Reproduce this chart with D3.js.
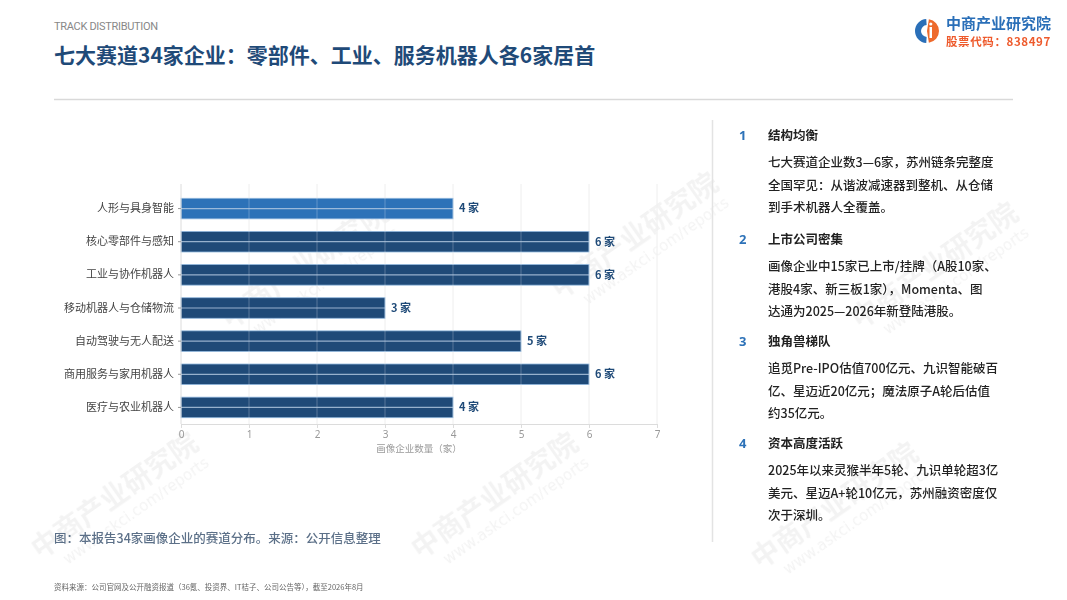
<!DOCTYPE html>
<html>
<head>
  <meta charset="utf-8">
  <title>七大赛道34家企业</title>
  <script src="https://d3js.org/d3.v7.min.js"></script>
  <style>
    body { margin: 0; background: #fff; }
    svg { font-family: "Noto Sans CJK SC", "Noto Sans", sans-serif; }
  </style>
</head>
<body>
  <svg id="chart" width="1067" height="600"></svg>

  <script>
    // 数据
    const categories = ["人形与具身智能", "核心零部件与感知", "工业与协作机器人", "移动机器人与仓储物流",
      "自动驾驶与无人配送", "商用服务与家用机器人", "医疗与农业机器人"];
    const counts = [4, 6, 6, 3, 5, 6, 4];
    const xTicks = [0, 1, 2, 3, 4, 5, 6, 7];

    const notes = [
      { title: "结构均衡", lines: ["七大赛道企业数3—6家，苏州链条完整度", "全国罕见：从谐波减速器到整机、从仓储", "到手术机器人全覆盖。"] },
      { title: "上市公司密集", lines: ["画像企业中15家已上市/挂牌（A股10家、", "港股4家、新三板1家），Momenta、图", "达通为2025—2026年新登陆港股。"] },
      { title: "独角兽梯队", lines: ["追觅Pre-IPO估值700亿元、九识智能破百", "亿、星迈近20亿元；魔法原子A轮后估值", "约35亿元。"] },
      { title: "资本高度活跃", lines: ["2025年以来灵猴半年5轮、九识单轮超3亿", "美元、星迈A+轮10亿元，苏州融资密度仅", "次于深圳。"] }
    ];

    const width = 1067, height = 600;
    const navy = "#1f4a78";
    const svg = d3.select("#chart");

    // 水印
    const wm = svg.append("g").attr("fill", "#000").attr("opacity", 0.05);
    const wmPos = [[230, 330], [560, 300], [860, 330], [420, 560], [760, 570], [40, 560]];
    wmPos.forEach(([x, y]) => {
      const g = wm.append("g").attr("transform", `translate(${x},${y}) rotate(-35)`);
      g.append("text").attr("font-size", 28).attr("font-weight", "bold").text("中商产业研究院");
      g.append("text").attr("y", 20).attr("x", 20).attr("font-size", 15).attr("font-family", "DejaVu Sans").text("www.askci.com/reports");
    });

    // 页眉
    svg.append("text").attr("x", 54).attr("y", 30)
      .attr("font-size", 11).attr("fill", "#888").attr("font-family", "Roboto, sans-serif")
      .attr("letter-spacing", -0.3).text("TRACK DISTRIBUTION");
    svg.append("text").attr("x", 54).attr("y", 63)
      .attr("font-size", 21).attr("font-weight", "bold").attr("fill", navy)
      .text("七大赛道34家企业：零部件、工业、服务机器人各6家居首");
    svg.append("line").attr("x1", 54).attr("x2", 1013).attr("y1", 99.5).attr("y2", 99.5)
      .attr("stroke", "#d9d9d9").attr("stroke-width", 1.5);

    // 标志
    const logo = svg.append("g").attr("transform", "translate(927,31)");
    logo.append("path").attr("fill", "#2a6fb8")
      .attr("d", d3.arc().innerRadius(6).outerRadius(12).startAngle(Math.PI * 1.02).endAngle(Math.PI * 1.98)());
    logo.append("path").attr("fill", "#ee6a2c")
      .attr("d", d3.arc().innerRadius(0).outerRadius(12).startAngle(Math.PI * 0.05).endAngle(Math.PI * 0.95)());
    logo.append("rect").attr("x", 2.5).attr("y", -4).attr("width", 2.5).attr("height", 11).attr("fill", "#fff");
    logo.append("circle").attr("cx", 3.8).attr("cy", -7).attr("r", 1.6).attr("fill", "#fff");
    svg.append("text").attr("x", 946).attr("y", 29).attr("font-size", 15).attr("font-weight", "bold")
      .attr("fill", "#2a6fb8").text("中商产业研究院");
    svg.append("text").attr("x", 946).attr("y", 46).attr("font-size", 11.5).attr("font-weight", "bold")
      .attr("fill", "#ee5a2c").attr("letter-spacing", 0.6).text("股票代码：838497");

    // 图表
    const margin = { left: 181, right: 657, top: 192, bottom: 424 };
    const x = d3.scaleLinear().domain([0, 7]).range([margin.left, margin.right]);
    const y = d3.scaleBand().domain(categories).range([margin.top, margin.bottom]).paddingInner(0.38).paddingOuter(0.19);

    const plot = svg.append("g");

    // 纵向网格
    plot.append("g").selectAll("line").data(xTicks.slice(1)).join("line")
      .attr("x1", d => x(d)).attr("x2", d => x(d))
      .attr("y1", margin.top - 8).attr("y2", margin.bottom)
      .attr("stroke", "#ececec");

    // 条形
    plot.append("g").selectAll("rect").data(categories).join("rect")
      .attr("x", x(0))
      .attr("y", d => y(d))
      .attr("width", (d, i) => x(counts[i]) - x(0))
      .attr("height", y.bandwidth())
      .attr("fill", (d, i) => i === 0 ? "#2d72b8" : navy)
      .attr("stroke", "#8fb6dc").attr("stroke-width", 0.8);

    // 网格覆盖在条形之上
    plot.append("g").selectAll("line").data(xTicks.slice(1)).join("line")
      .attr("x1", d => x(d)).attr("x2", d => x(d))
      .attr("y1", margin.top - 8).attr("y2", margin.bottom)
      .attr("stroke", "#fff").attr("stroke-opacity", 0.25);
    plot.append("g").selectAll("line").data(categories).join("line")
      .attr("x1", x(0)).attr("x2", (d, i) => x(counts[i]))
      .attr("y1", d => y(d) + y.bandwidth() / 2).attr("y2", d => y(d) + y.bandwidth() / 2)
      .attr("stroke", "#b5cbe2").attr("stroke-opacity", 0.8).attr("stroke-width", 1.2);

    // 数值标签
    plot.append("g").selectAll("text").data(categories).join("text")
      .attr("x", (d, i) => x(counts[i]) + 6)
      .attr("y", d => y(d) + y.bandwidth() / 2)
      .attr("dy", "0.35em")
      .attr("font-size", 11).attr("font-weight", "bold").attr("fill", navy)
      .text((d, i) => `${counts[i]} 家`);

    // 坐标轴
    const xAxis = svg.append("g").attr("transform", `translate(0,${margin.bottom})`)
      .call(d3.axisBottom(x).tickValues(xTicks).tickFormat(d3.format("d")).tickSize(4).tickPadding(3));
    xAxis.select(".domain").attr("stroke", "#dcdcdc");
    xAxis.selectAll(".tick line").attr("stroke", "#dcdcdc");
    xAxis.selectAll("text").attr("fill", "#999").attr("font-size", 10).attr("font-family", "Noto Sans, sans-serif");

    const yAxis = svg.append("g").attr("transform", `translate(${margin.left},0)`)
      .call(d3.axisLeft(y).tickSize(3).tickPadding(4));
    yAxis.select(".domain").attr("stroke", "#dcdcdc").attr("d", `M0,${margin.top - 8}V${margin.bottom}`);
    yAxis.selectAll(".tick line").attr("stroke", "#999");
    yAxis.selectAll("text").attr("fill", "#444").attr("font-size", 11).attr("font-family", "Noto Sans CJK SC, sans-serif");

    svg.append("text").attr("x", (margin.left + margin.right) / 2).attr("y", 452)
      .attr("text-anchor", "middle").attr("font-size", 9.5).attr("fill", "#999")
      .text("画像企业数量（家）");

    // 右侧要点
    svg.append("line").attr("x1", 712.5).attr("x2", 712.5).attr("y1", 120).attr("y2", 542)
      .attr("stroke", "#e3e3e3").attr("stroke-width", 1.5);
    const noteTop = [140, 244, 346, 448];
    notes.forEach((n, i) => {
      const g = svg.append("g").attr("transform", `translate(0,${noteTop[i]})`);
      g.append("text").attr("x", 739).attr("y", 0).attr("font-size", 13).attr("font-weight", "bold")
        .attr("fill", "#2d72b8").attr("font-family", "Noto Sans, sans-serif").text(i + 1);
      g.append("text").attr("x", 768).attr("y", 0).attr("font-size", 12.5).attr("font-weight", "bold")
        .attr("fill", "#222").text(n.title);
      n.lines.forEach((l, j) => {
        g.append("text").attr("x", 768).attr("y", 27 + j * 22.5).attr("font-size", 12.5)
          .attr("font-weight", 500).attr("fill", "#222").text(l);
      });
    });

    // 图注与来源
    svg.append("text").attr("x", 54).attr("y", 543).attr("font-size", 12.5).attr("fill", "#5c7088")
      .attr("font-weight", 500).text("图：本报告34家画像企业的赛道分布。来源：公开信息整理");
    svg.append("text").attr("x", 54).attr("y", 590).attr("font-size", 7.5).attr("fill", "#666")
      .text("资料来源：公司官网及公开融资报道（36氪、投资界、IT桔子、公司公告等），截至2026年8月");
  </script>
</body>
</html>
